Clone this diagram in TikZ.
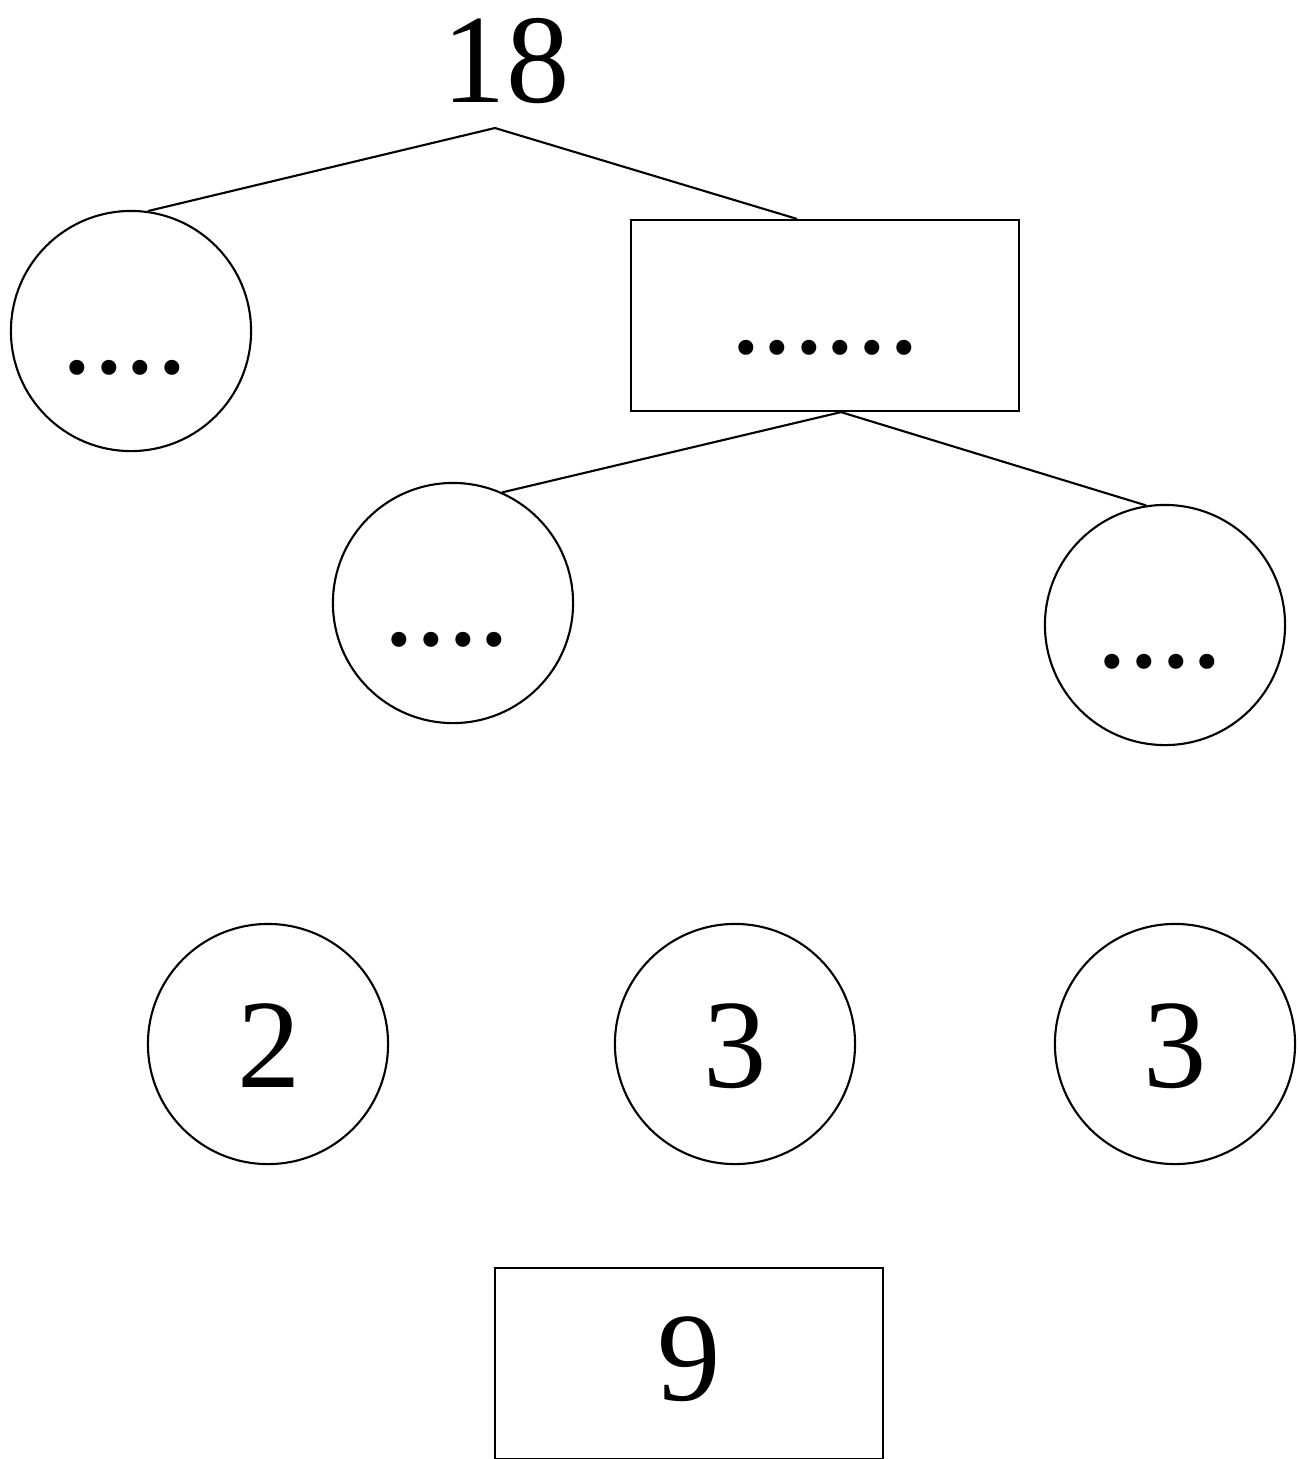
\documentclass[tikz,border=0pt]{standalone}
\usepackage{fontspec}
\setmainfont{Liberation Serif}
\begin{document}
\begin{tikzpicture}[x=0.01cm,y=-0.01cm,
  shapeline/.style={draw=black,line width=0.6pt},
  ring/.style={shapeline,circle,minimum size=2.4cm,inner sep=0pt},
  panel/.style={shapeline,rectangle,minimum width=3.88cm,minimum height=1.91cm,inner sep=0pt},
  txt/.style={anchor=base,inner sep=0pt,font=\fontsize{36}{43}\selectfont},
  edge/.style={draw=black,line width=0.6pt}]
\useasboundingbox (0,0) rectangle (1298,1459);
% top label
\node[txt] (top) at (506,102) {18};
\coordinate (apex) at (495,128);
% first level
\node[ring] (c1) at (131,331) {};
\node[panel] (r1) at (825,315.5) {};
\node[txt] (t1) at (125,373) {....};
\node[txt] (tr1) at (825,353) {......};
% second level
\node[ring] (c2) at (453,603) {};
\node[ring] (c3) at (1165,625) {};
\node[txt] (t2) at (447,645) {....};
\node[txt] (t3) at (1160,667) {....};
% bottom row
\node[ring] (b1) at (268,1044) {};
\node[ring] (b2) at (735,1044) {};
\node[ring] (b3) at (1175,1044) {};
\node[txt] (tb1) at (269,1087) {2};
\node[txt] (tb2) at (735,1087) {3};
\node[txt] (tb3) at (1175,1087) {3};
\node[panel] (r2) at (689,1363.5) {};
\node[txt] (tr2) at (689,1400) {9};
% connectors
\draw[edge] (c1.82) -- (apex) -- ([xshift=-0.28cm]r1.north);
\coordinate (apex2) at ([xshift=0.16cm]r1.south);
\draw[edge] (c2.66) -- (apex2) -- (c3.99);
\end{tikzpicture}
\end{document}
